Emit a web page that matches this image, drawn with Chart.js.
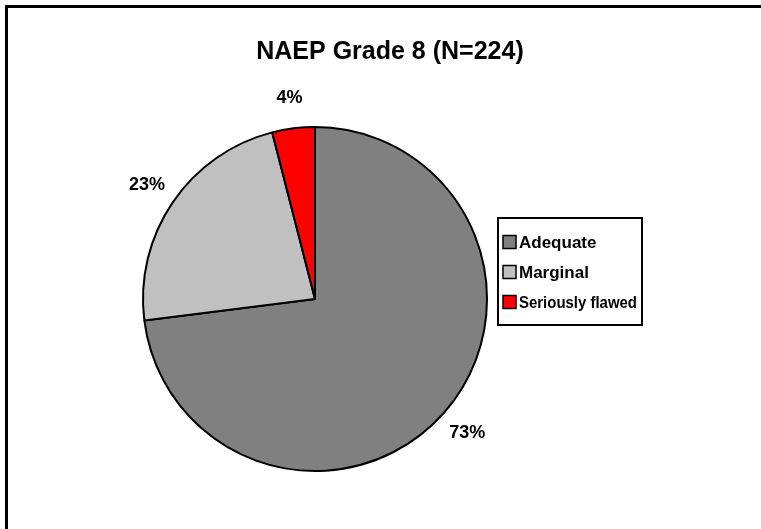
<!DOCTYPE html>
<html>
<head>
<meta charset="utf-8">
<script src="https://cdn.jsdelivr.net/npm/chart.js@4"></script>
<style>
  html, body { margin: 0; padding: 0; background: #fff; }
  #wrap { width: 761px; height: 529px; position: relative; }
</style>
</head>
<body>
<div id="wrap"><canvas id="pieChart" width="761" height="529"></canvas></div>
<script>
// Chart data
const categories = ['Adequate', 'Marginal', 'Seriously flawed'];
const percents = [73, 23, 4];
const sliceColors = ['#808080', '#C0C0C0', '#FF0000'];
const chartTitle = 'NAEP Grade 8 (N=224)';

const FONT = '"Liberation Sans", Arial, sans-serif';

// Frame, title, outside labels and the boxed legend
const decorations = {
    id: 'decorations',
    afterDraw(chart) {
        const ctx = chart.ctx;
        ctx.save();

        // outer frame (only top and left visible in crop)
        ctx.strokeStyle = '#000';
        ctx.lineWidth = 3;
        ctx.strokeRect(6.5, 6.5, 800, 600);

        // title
        ctx.fillStyle = '#000';
        ctx.font = 'bold 25px ' + FONT;
        ctx.textAlign = 'center';
        ctx.textBaseline = 'middle';
        ctx.fillText(chartTitle, 390, 52);

        // percent labels just outside each slice
        const meta = chart.getDatasetMeta(0);
        ctx.font = 'bold 18px ' + FONT;
        meta.data.forEach((arc, i) => {
            const p = arc.getProps(['x', 'y', 'startAngle', 'endAngle', 'outerRadius'], true);
            const mid = (p.startAngle + p.endAngle) / 2;
            const txt = chart.data.datasets[0].data[i] + '%';
            const c = Math.cos(mid), s = Math.sin(mid);
            const r = p.outerRadius + 31;
            ctx.fillText(txt, p.x + c * r, p.y + s * r);
        });

        // legend box
        const lx = 498, ly = 218, lw = 144, lh = 107;
        ctx.lineWidth = 2;
        ctx.strokeStyle = '#000';
        ctx.strokeRect(lx, ly, lw, lh);
        ctx.font = 'bold 17px ' + FONT;
        ctx.textAlign = 'left';
        chart.data.labels.forEach((lab, i) => {
            const cy = ly + 24 + i * 30;
            ctx.fillStyle = sliceColors[i];
            ctx.fillRect(503, cy - 6.5, 13, 13);
            ctx.lineWidth = 1.5;
            ctx.strokeRect(503, cy - 6.5, 13, 13);
            ctx.fillStyle = '#000';
            const w = ctx.measureText(lab).width;
            const maxW = 118;
            ctx.save();
            ctx.translate(519, cy + 1);
            if (w > maxW) ctx.scale(maxW / w, 1);
            ctx.fillText(lab, 0, 0);
            ctx.restore();
        });

        ctx.restore();
    }
};

const ctx = document.getElementById('pieChart').getContext('2d');
new Chart(ctx, {
    type: 'pie',
    data: {
        labels: categories,
        datasets: [{
            data: percents,
            backgroundColor: sliceColors,
            borderColor: '#000',
            borderWidth: 2
        }]
    },
    options: {
        responsive: false,
        animation: false,
        layout: {
            padding: { left: 142, right: 273, top: 126, bottom: 57 }
        },
        plugins: {
            legend: { display: false },
            title: { display: false },
            tooltip: { enabled: false }
        }
    },
    plugins: [decorations]
});
</script>
</body>
</html>
